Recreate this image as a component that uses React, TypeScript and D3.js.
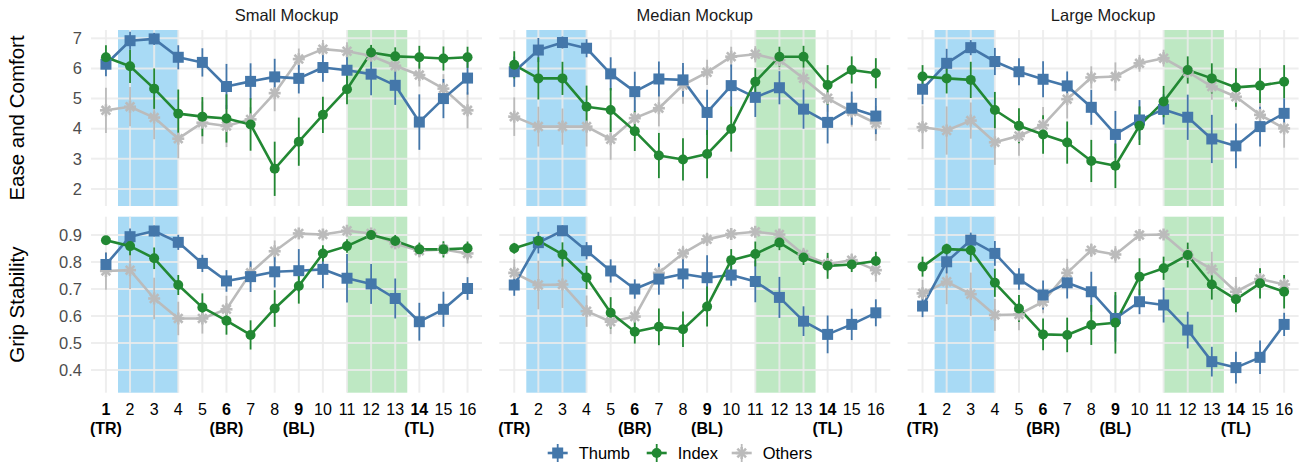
import React from "react";
import * as d3 from "d3";

// ---- categories / ticks ----
const positions = [1, 2, 3, 4, 5, 6, 7, 8, 9, 10, 11, 12, 13, 14, 15, 16];
const boldPositions = [1, 6, 9, 14];
const cornerNames = ["(TR)", "(BR)", "(BL)", "(TL)"];
const mockups = ["Small Mockup", "Median Mockup", "Large Mockup"];
const seriesNames = ["Thumb", "Index", "Others"];
const easeTicks = [2, 3, 4, 5, 6, 7];
const gripTicks = [0.4, 0.5, 0.6, 0.7, 0.8, 0.9];
const rowTitles = ["Ease and Comfort", "Grip Stability"];
const blueZone = [1.5, 4];
const greenZone = [11, 13.5];

// ---- Ease and Comfort: means ----
const easeSmallThumb = [6.14, 6.92, 6.98, 6.37, 6.2, 5.4, 5.57, 5.72, 5.67, 6.03, 5.94, 5.81, 5.44, 4.22, 5.0, 5.68];
const easeSmallIndex = [6.37, 6.07, 5.33, 4.5, 4.4, 4.34, 4.14, 2.67, 3.57, 4.46, 5.31, 6.53, 6.4, 6.37, 6.33, 6.37];
const easeSmallOthers = [4.61, 4.73, 4.37, 3.67, 4.2, 4.09, 4.31, 5.18, 6.31, 6.64, 6.57, 6.42, 6.09, 5.78, 5.33, 4.61];
const easeMedianThumb = [5.89, 6.61, 6.86, 6.67, 5.82, 5.23, 5.65, 5.62, 4.54, 5.43, 5.04, 5.36, 4.65, 4.21, 4.68, 4.42];
const easeMedianIndex = [6.12, 5.67, 5.67, 4.73, 4.62, 3.92, 3.11, 2.98, 3.16, 3.99, 5.56, 6.39, 6.39, 5.45, 5.95, 5.84];
const easeMedianOthers = [4.4, 4.07, 4.07, 4.07, 3.65, 4.35, 4.68, 5.45, 5.87, 6.39, 6.47, 6.28, 5.67, 5.01, 4.57, 4.18];
const easeLargeThumb = [5.31, 6.17, 6.69, 6.23, 5.89, 5.64, 5.42, 4.71, 3.81, 4.29, 4.64, 4.38, 3.66, 3.43, 4.07, 4.51];
const easeLargeIndex = [5.73, 5.67, 5.62, 4.62, 4.1, 3.81, 3.54, 2.93, 2.77, 4.1, 4.9, 5.95, 5.67, 5.37, 5.43, 5.56];
const easeLargeOthers = [4.05, 3.94, 4.27, 3.55, 3.76, 4.12, 4.98, 5.7, 5.73, 6.17, 6.34, 5.89, 5.4, 5.06, 4.46, 4.01];

// ---- Ease and Comfort: error half-widths ----
const easeSmallThumbErr = [0.4, 0.3, 0.2, 0.4, 0.47, 0.75, 0.6, 0.6, 0.5, 0.47, 0.6, 0.7, 0.65, 0.92, 0.65, 0.55];
const easeSmallIndexErr = [0.4, 0.55, 0.67, 0.8, 0.65, 0.8, 0.87, 0.9, 0.8, 0.6, 0.5, 0.25, 0.3, 0.38, 0.4, 0.35];
const easeSmallOthersErr = [0.75, 0.65, 0.72, 0.65, 0.7, 0.7, 0.4, 0.6, 0.35, 0.3, 0.3, 0.33, 0.38, 0.38, 0.48, 0.6];
const easeMedianThumbErr = [0.5, 0.4, 0.2, 0.3, 0.55, 0.66, 0.58, 0.56, 0.75, 0.7, 0.65, 0.55, 0.65, 0.7, 0.55, 0.6];
const easeMedianIndexErr = [0.45, 0.7, 0.55, 0.7, 0.73, 0.66, 0.75, 0.7, 0.8, 0.75, 0.45, 0.33, 0.36, 0.66, 0.45, 0.5];
const easeMedianOthersErr = [0.64, 0.66, 0.6, 0.66, 0.68, 0.6, 0.6, 0.62, 0.42, 0.33, 0.27, 0.35, 0.38, 0.45, 0.5, 0.58];
const easeLargeThumbErr = [0.5, 0.48, 0.25, 0.45, 0.45, 0.6, 0.48, 0.58, 0.78, 0.66, 0.5, 0.75, 0.8, 0.74, 0.66, 0.5];
const easeLargeIndexErr = [0.38, 0.5, 0.6, 0.6, 0.58, 0.64, 0.7, 0.7, 0.74, 0.64, 0.52, 0.45, 0.5, 0.64, 0.58, 0.55];
const easeLargeOthersErr = [0.72, 0.8, 0.6, 0.75, 0.66, 0.6, 0.64, 0.37, 0.47, 0.28, 0.28, 0.39, 0.44, 0.44, 0.5, 0.64];

// ---- Grip Stability: means ----
const gripSmallThumb = [0.791, 0.894, 0.915, 0.873, 0.795, 0.73, 0.746, 0.764, 0.768, 0.773, 0.74, 0.719, 0.665, 0.579, 0.625, 0.702];
const gripSmallIndex = [0.881, 0.859, 0.814, 0.715, 0.632, 0.583, 0.53, 0.628, 0.711, 0.832, 0.859, 0.9, 0.878, 0.847, 0.847, 0.851];
const gripSmallOthers = [0.767, 0.77, 0.665, 0.591, 0.591, 0.625, 0.76, 0.84, 0.906, 0.902, 0.916, 0.906, 0.869, 0.842, 0.847, 0.832];
const gripMedianThumb = [0.715, 0.872, 0.916, 0.842, 0.767, 0.7, 0.737, 0.756, 0.742, 0.752, 0.728, 0.669, 0.581, 0.532, 0.569, 0.612];
const gripMedianIndex = [0.851, 0.879, 0.828, 0.743, 0.612, 0.542, 0.56, 0.551, 0.635, 0.807, 0.83, 0.872, 0.817, 0.786, 0.791, 0.804];
const gripMedianOthers = [0.76, 0.715, 0.717, 0.618, 0.579, 0.598, 0.76, 0.832, 0.884, 0.904, 0.912, 0.902, 0.828, 0.793, 0.807, 0.77];
const gripLargeThumb = [0.637, 0.801, 0.881, 0.832, 0.737, 0.678, 0.723, 0.69, 0.591, 0.653, 0.641, 0.548, 0.431, 0.409, 0.447, 0.569];
const gripLargeIndex = [0.783, 0.848, 0.844, 0.723, 0.628, 0.532, 0.53, 0.567, 0.575, 0.746, 0.777, 0.826, 0.717, 0.662, 0.721, 0.69];
const gripLargeOthers = [0.684, 0.727, 0.681, 0.604, 0.606, 0.653, 0.76, 0.844, 0.828, 0.9, 0.902, 0.826, 0.773, 0.69, 0.737, 0.717];

// ---- Grip Stability: error half-widths ----
const gripSmallThumbErr = [0.043, 0.03, 0.02, 0.028, 0.032, 0.04, 0.057, 0.058, 0.08, 0.07, 0.09, 0.074, 0.074, 0.07, 0.065, 0.042];
const gripSmallIndexErr = [0.015, 0.034, 0.04, 0.037, 0.052, 0.052, 0.054, 0.068, 0.065, 0.03, 0.025, 0.012, 0.022, 0.025, 0.03, 0.025];
const gripSmallOthersErr = [0.07, 0.07, 0.077, 0.062, 0.056, 0.05, 0.04, 0.04, 0.015, 0.015, 0.012, 0.015, 0.02, 0.025, 0.025, 0.037];
const gripMedianThumbErr = [0.04, 0.04, 0.02, 0.032, 0.043, 0.036, 0.058, 0.055, 0.083, 0.04, 0.077, 0.076, 0.055, 0.07, 0.058, 0.05];
const gripMedianIndexErr = [0.02, 0.015, 0.045, 0.043, 0.058, 0.044, 0.068, 0.066, 0.074, 0.041, 0.046, 0.028, 0.028, 0.048, 0.028, 0.034];
const gripMedianOthersErr = [0.05, 0.09, 0.087, 0.058, 0.046, 0.038, 0.034, 0.028, 0.025, 0.015, 0.015, 0.02, 0.025, 0.031, 0.025, 0.043];
const gripLargeThumbErr = [0.041, 0.043, 0.028, 0.046, 0.04, 0.054, 0.058, 0.074, 0.086, 0.046, 0.065, 0.068, 0.055, 0.059, 0.062, 0.043];
const gripLargeIndexErr = [0.037, 0.02, 0.043, 0.052, 0.05, 0.059, 0.064, 0.074, 0.114, 0.068, 0.043, 0.046, 0.056, 0.048, 0.056, 0.062];
const gripLargeOthersErr = [0.05, 0.083, 0.08, 0.059, 0.059, 0.043, 0.052, 0.025, 0.031, 0.015, 0.015, 0.031, 0.065, 0.055, 0.04, 0.034];

// ---- assembled tables (rows x panels x series) ----
const means = [
  [
    [easeSmallThumb, easeSmallIndex, easeSmallOthers],
    [easeMedianThumb, easeMedianIndex, easeMedianOthers],
    [easeLargeThumb, easeLargeIndex, easeLargeOthers],
  ],
  [
    [gripSmallThumb, gripSmallIndex, gripSmallOthers],
    [gripMedianThumb, gripMedianIndex, gripMedianOthers],
    [gripLargeThumb, gripLargeIndex, gripLargeOthers],
  ],
];
const errs = [
  [
    [easeSmallThumbErr, easeSmallIndexErr, easeSmallOthersErr],
    [easeMedianThumbErr, easeMedianIndexErr, easeMedianOthersErr],
    [easeLargeThumbErr, easeLargeIndexErr, easeLargeOthersErr],
  ],
  [
    [gripSmallThumbErr, gripSmallIndexErr, gripSmallOthersErr],
    [gripMedianThumbErr, gripMedianIndexErr, gripMedianOthersErr],
    [gripLargeThumbErr, gripLargeIndexErr, gripLargeOthersErr],
  ],
];

// ---- styles ----
const COLORS = ["#4477AA", "#228833", "#BBBBBB"];
const BLUE_FILL = "#A8DAF5";
const GREEN_FILL = "#BEE8C3";
const GRID = "#EBEBEB";
const FONT = "'Liberation Sans', Arial, Helvetica, sans-serif";

const W = 1300;
const H = 466;
const panelLefts = [91, 499.3, 907.6];
const panelW = 391;
const rows = [
  { top: 30, bottom: 206, domain: [1.436, 7.275], ticks: easeTicks, fmt: (v: number) => String(v) },
  { top: 216.7, bottom: 392.7, domain: [0.316, 0.968], ticks: gripTicks, fmt: (v: number) => d3.format(".1f")(v) },
];
const drawOrder = [2, 0, 1]; // Others below, Thumb, Index on top

function Marker({ s, x, y, color }: { s: number; x: number; y: number; color: string }) {
  if (s === 0) return <rect x={x - 5.5} y={y - 5.5} width={11} height={11} fill={color} />;
  if (s === 1) return <circle cx={x} cy={y} r={5} fill={color} />;
  const r = 6;
  const d = r * 0.72;
  return (
    <g stroke={color} strokeWidth={2.6} strokeLinecap="butt">
      <line x1={x - r} y1={y} x2={x + r} y2={y} />
      <line x1={x} y1={y - r} x2={x} y2={y + r} />
      <line x1={x - d} y1={y - d} x2={x + d} y2={y + d} />
      <line x1={x - d} y1={y + d} x2={x + d} y2={y - d} />
    </g>
  );
}

function Panel({ row, col }: { row: number; col: number }) {
  const r = rows[row];
  const left = panelLefts[col];
  const x = d3.scaleLinear().domain([0.38, 16.6]).range([left, left + panelW]);
  const y = d3.scaleLinear().domain(r.domain).range([r.bottom, r.top]);
  const line = d3
    .line<number>()
    .x((_, i) => x(positions[i]))
    .y((v) => y(v));
  return (
    <g>
      <rect x={x(blueZone[0])} y={r.top} width={x(blueZone[1]) - x(blueZone[0])} height={r.bottom - r.top} fill={BLUE_FILL} />
      <rect x={x(greenZone[0])} y={r.top} width={x(greenZone[1]) - x(greenZone[0])} height={r.bottom - r.top} fill={GREEN_FILL} />
      {r.ticks.map((t) => (
        <line key={"h" + t} x1={left} x2={left + panelW} y1={y(t)} y2={y(t)} stroke={GRID} strokeOpacity={0.85} strokeWidth={2} />
      ))}
      {positions.map((p) => (
        <line key={"v" + p} x1={x(p)} x2={x(p)} y1={r.top} y2={r.bottom} stroke={GRID} strokeOpacity={0.85} strokeWidth={2} />
      ))}
      {drawOrder.map((s) => (
        <g key={"e" + s} stroke={COLORS[s]} strokeWidth={1.8}>
          {means[row][col][s].map((m, i) => (
            <line key={i} x1={x(positions[i])} x2={x(positions[i])} y1={y(m - errs[row][col][s][i])} y2={y(m + errs[row][col][s][i])} />
          ))}
        </g>
      ))}
      {drawOrder.map((s) => (
        <path key={"l" + s} d={line(means[row][col][s]) || ""} fill="none" stroke={COLORS[s]} strokeWidth={2.6} strokeLinejoin="round" />
      ))}
      {drawOrder.map((s) => (
        <g key={"p" + s}>
          {means[row][col][s].map((m, i) => (
            <Marker key={i} s={s} x={x(positions[i])} y={y(m)} color={COLORS[s]} />
          ))}
        </g>
      ))}
    </g>
  );
}

export default function App() {
  const legendMarkerX = [557.7, 656.7, 741.7];
  const legendY = 453;
  return (
    <div style={{ position: "absolute", left: 0, top: 0 }}>
      <svg width={W} height={H} style={{ display: "block", background: "#fff" }} fontFamily={FONT}>
        {/* strip titles */}
        {mockups.map((m, c) => (
          <text key={m} x={panelLefts[c] + panelW / 2} y={21} textAnchor="middle" fontSize={16.5} fill="#1A1A1A">
            {m}
          </text>
        ))}
        {/* row titles */}
        {rowTitles.map((t, ri) => (
          <text
            key={t}
            transform={`translate(24,${(rows[ri].top + rows[ri].bottom) / 2}) rotate(-90)`}
            textAnchor="middle"
            fontSize={20.5}
            fill="#000"
          >
            {t}
          </text>
        ))}
        {/* y tick labels */}
        {rows.map((r, ri) => {
          const y = d3.scaleLinear().domain(r.domain).range([r.bottom, r.top]);
          return r.ticks.map((t) => (
            <text key={ri + "-" + t} x={82} y={y(t)} dy="0.35em" textAnchor="end" fontSize={16.5} fill="#4D4D4D">
              {r.fmt(t)}
            </text>
          ));
        })}
        {/* panels */}
        {[0, 1].map((ri) => [0, 1, 2].map((c) => <Panel key={ri + "-" + c} row={ri} col={c} />))}
        {/* x tick labels */}
        {panelLefts.map((left, c) => {
          const x = d3.scaleLinear().domain([0.38, 16.6]).range([left, left + panelW]);
          return (
            <g key={"xt" + c}>
              {positions.map((p) => (
                <text
                  key={p}
                  x={x(p)}
                  y={415}
                  textAnchor="middle"
                  fontSize={16}
                  fontWeight={boldPositions.includes(p) ? "bold" : "normal"}
                  fill="#000"
                >
                  {p}
                </text>
              ))}
              {boldPositions.map((p, k) => (
                <text key={"c" + p} x={x(p)} y={434} textAnchor="middle" fontSize={16} fontWeight="bold" fill="#000">
                  {cornerNames[k]}
                </text>
              ))}
            </g>
          );
        })}
        {/* legend */}
        {seriesNames.map((n, s) => (
          <g key={n}>
            <line x1={legendMarkerX[s] - 10} x2={legendMarkerX[s] + 10} y1={legendY} y2={legendY} stroke={COLORS[s]} strokeWidth={2.6} />
            <line x1={legendMarkerX[s]} x2={legendMarkerX[s]} y1={legendY - 9} y2={legendY + 9} stroke={COLORS[s]} strokeWidth={1.8} />
            <Marker s={s} x={legendMarkerX[s]} y={legendY} color={COLORS[s]} />
            <text x={legendMarkerX[s] + 21} y={legendY} dy="0.35em" fontSize={16.5} fill="#000">
              {n}
            </text>
          </g>
        ))}
      </svg>
    </div>
  );
}
